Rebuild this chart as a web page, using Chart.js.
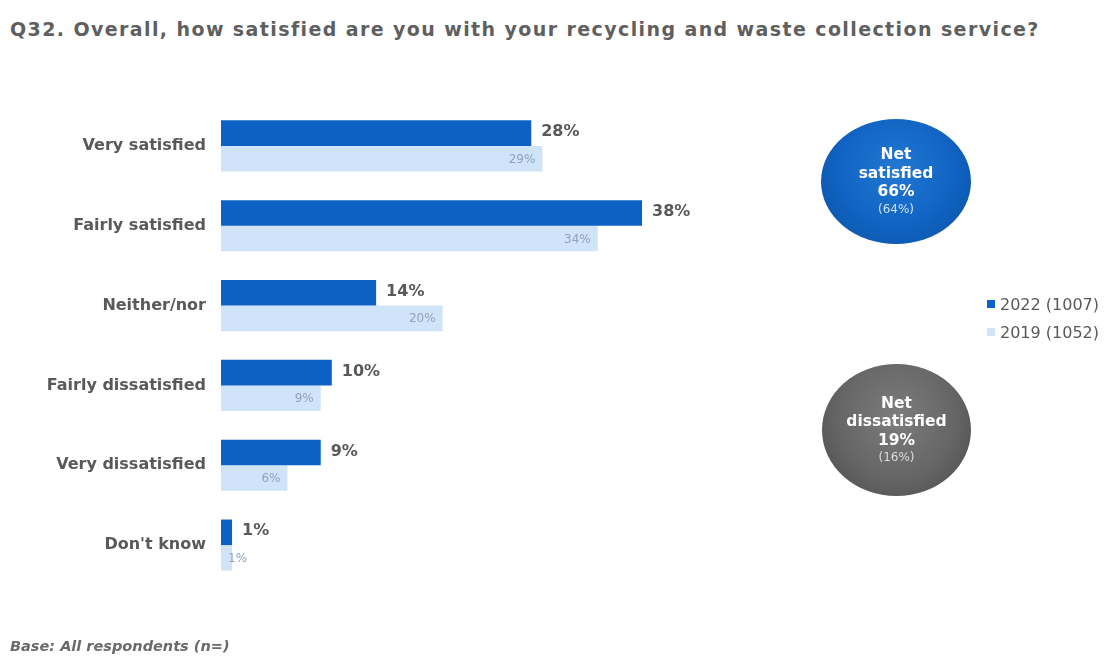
<!DOCTYPE html>
<html>
<head>
<meta charset="utf-8">
<script src="https://cdn.jsdelivr.net/npm/chart.js@4.4.1/dist/chart.umd.min.js"></script>
<style>
  html, body { margin: 0; padding: 0; background: #fff; }
  body { width: 1105px; height: 658px; position: relative; overflow: hidden; font-family: "DejaVu Sans", Verdana, sans-serif; color: #595959; }
  #title { position: absolute; left: 10px; top: 18px; font-size: 19px; letter-spacing: 1.4px; font-weight: bold; color: #5f5f5f; white-space: nowrap; }
  #base { position: absolute; left: 10px; top: 638px; font-size: 14.5px; font-weight: bold; font-style: italic; color: #6a6a6a; }
  #wrap { position: absolute; left: 0; top: 0; width: 1105px; height: 658px; }
  .bubble { position: absolute; border-radius: 50%; color: #fff; text-align: center; font-weight: bold; font-size: 15.5px; line-height: 18.5px; display: flex; flex-direction: column; justify-content: center; }
  .bubble .prev { font-weight: normal; font-size: 12px; line-height: 17px; }
  #sat { left: 821px; top: 119px; width: 150px; height: 125px; background: radial-gradient(ellipse at 50% 40%, #2378d3 0%, #1063c2 55%, #0a4f9f 100%); }
  #sat .prev { color: #cfe1f7; }
  #dis { left: 822px; top: 364px; width: 149px; height: 132px; background: radial-gradient(ellipse at 50% 40%, #7c7c7c 0%, #666 55%, #474747 100%); }
  #dis .prev { color: #dcdcdc; }
  #legend { position: absolute; left: 987px; top: 295px; font-size: 16px; color: #595959; }
  #legend div { height: 28px; line-height: 20px; white-space: nowrap; }
  #legend span.sw { display: inline-block; width: 8px; height: 8px; margin-right: 5px; vertical-align: 2px; }
</style>
</head>
<body>
<div id="title">Q32. Overall, how satisfied are you with your recycling and waste collection service?</div>
<div id="wrap"><canvas id="chart" width="1105" height="658"></canvas></div>
<div class="bubble" id="sat"><div>Net</div><div>satisfied</div><div id="satNow"></div><div class="prev" id="satPrev"></div></div>
<div class="bubble" id="dis"><div>Net</div><div>dissatisfied</div><div id="disNow"></div><div class="prev" id="disPrev"></div></div>
<div id="legend"></div>
<div id="base">Base: All respondents (n=)</div>

<script>
// categories and values (percent)
const categories = ['Very satisfied', 'Fairly satisfied', 'Neither/nor', 'Fairly dissatisfied', 'Very dissatisfied', "Don't know"];
const values2022 = [28, 38, 14, 10, 9, 1];
const values2019 = [29, 34, 20, 9, 6, 1];
const seriesLabels = ['2022 (1007)', '2019 (1052)'];
const netSatisfied = [66, 64];     // 2022, 2019
const netDissatisfied = [19, 16];  // 2022, 2019

const DARK = '#0b62c4';
const LIGHT = '#cfe3f9';

document.getElementById('satNow').textContent = netSatisfied[0] + '%';
document.getElementById('satPrev').textContent = '(' + netSatisfied[1] + '%)';
document.getElementById('disNow').textContent = netDissatisfied[0] + '%';
document.getElementById('disPrev').textContent = '(' + netDissatisfied[1] + '%)';

// legend built from series labels
const legendEl = document.getElementById('legend');
[DARK, LIGHT].forEach((col, i) => {
  const row = document.createElement('div');
  row.innerHTML = '<span class="sw" style="background:' + col + '"></span>' + seriesLabels[i];
  legendEl.appendChild(row);
});

// value labels after / inside bar ends
const valueLabels = {
  id: 'valueLabels',
  afterDatasetsDraw(chart) {
    const ctx = chart.ctx;
    ctx.save();
    ctx.textBaseline = 'middle';
    chart.data.datasets.forEach((ds, di) => {
      const meta = chart.getDatasetMeta(di);
      meta.data.forEach((bar, i) => {
        const txt = ds.data[i] + '%';
        if (di === 0) {
          ctx.font = 'bold 16px "DejaVu Sans"';
          ctx.fillStyle = '#595959';
          ctx.textAlign = 'left';
          ctx.fillText(txt, bar.x + 10, bar.y - 1);
        } else {
          ctx.font = '12px "DejaVu Sans"';
          ctx.fillStyle = '#8ea3bb';
          const w = ctx.measureText(txt).width;
          if (bar.x - bar.base > w + 12) {
            ctx.textAlign = 'right';
            ctx.fillText(txt, bar.x - 7, bar.y + 1);
          } else {
            ctx.textAlign = 'left';
            ctx.fillText(txt, bar.x - 4, bar.y + 1);
          }
        }
      });
    });
    ctx.restore();
  }
};

new Chart(document.getElementById('chart').getContext('2d'), {
  type: 'bar',
  data: {
    labels: categories,
    datasets: [
      { label: seriesLabels[0], data: values2022, backgroundColor: DARK },
      { label: seriesLabels[1], data: values2019, backgroundColor: LIGHT }
    ]
  },
  options: {
    indexAxis: 'y',
    responsive: false,
    animation: false,
    layout: { padding: { top: 106, bottom: 73, left: 0, right: 330 } },
    datasets: { bar: { categoryPercentage: 0.64, barPercentage: 1 } },
    plugins: { legend: { display: false }, tooltip: { enabled: false } },
    scales: {
      x: { min: 0, max: 50, display: false },
      y: {
        grid: { display: false, drawTicks: false },
        border: { display: false },
        ticks: { padding: 15, color: '#595959', font: { family: 'DejaVu Sans', size: 16, weight: 'bold' } },
        afterFit(scale) { scale.width = 221; }
      }
    }
  },
  plugins: [valueLabels]
});
</script>
</body>
</html>
